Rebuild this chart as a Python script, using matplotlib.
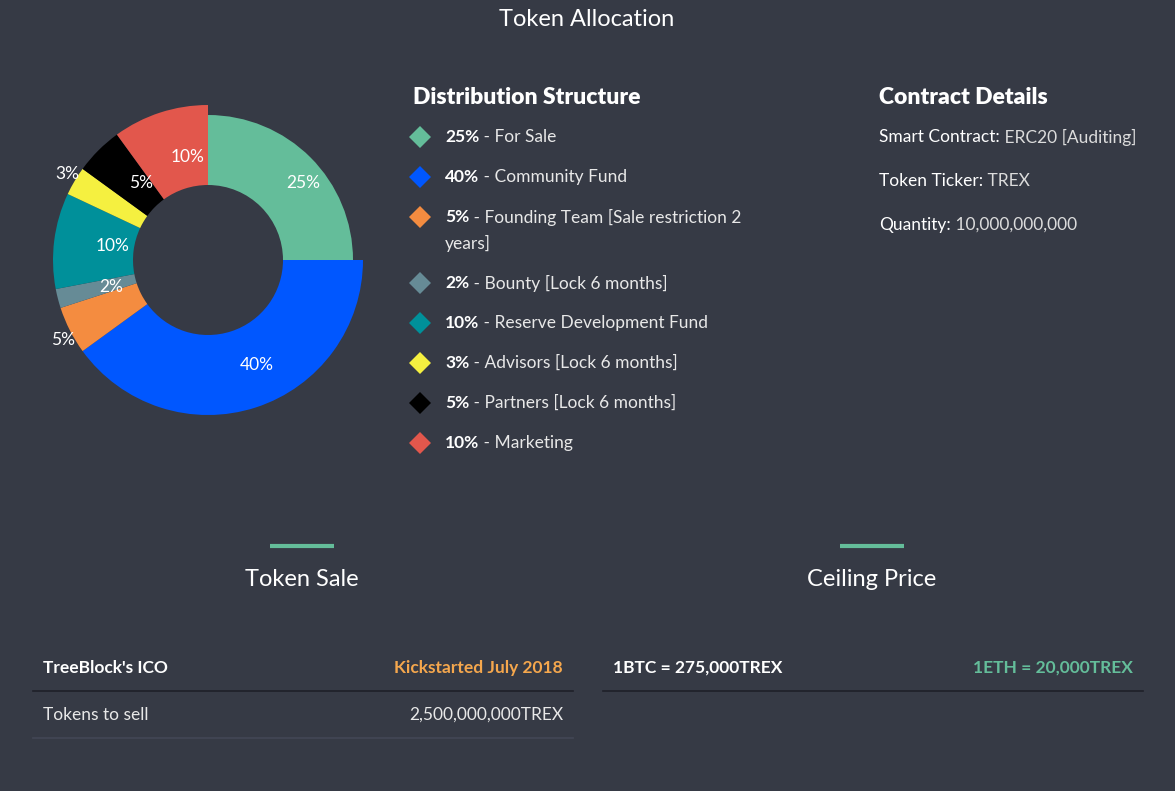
import matplotlib
matplotlib.use("Agg")
import matplotlib.pyplot as plt
import numpy as np

plt.rcParams['font.family'] = ['Lato', 'DejaVu Sans']

# data
shares = [25, 40, 5, 2, 10, 3, 5, 10]
names = ["For Sale", "Community Fund", "Founding Team [Sale restriction 2\nyears]",
         "Bounty [Lock 6 months]", "Reserve Development Fund",
         "Advisors [Lock 6 months]", "Partners [Lock 6 months]", "Marketing"]
colors = ["#64bd9a", "#0057ff", "#f48c40", "#668b96", "#00909a",
          "#f5f040", "#000000", "#e2574c"]

contract_keys = ["Smart Contract:", "Token Ticker:", "Quantity:"]
contract_vals = ["ERC20 [Auditing]", "TREX", "10,000,000,000"]

sale_head = ["TreeBlock's ICO", "Kickstarted July 2018"]
sale_row = ["Tokens to sell", "2,500,000,000TREX"]
price_head = ["1BTC = 275,000TREX", "1ETH = 20,000TREX"]

bg = "#363a45"
W, H = 1175, 791

fig = plt.figure(figsize=(W / 100, H / 100), dpi=100, facecolor=bg)
ax = fig.add_axes([0, 0, 1, 1])
ax.set_xlim(0, W)
ax.set_ylim(H, 0)
ax.axis("off")
ax.set_facecolor(bg)

# doughnut
cx, cy, half = 208, 260, 185
pax = fig.add_axes([(cx - half) / W, (H - cy - half) / H, 2 * half / W, 2 * half / H])
wedges, _ = pax.pie(shares, colors=colors, startangle=90, counterclock=False,
                    radius=155, wedgeprops=dict(width=80, linewidth=0))
wedges[0].set_radius(145)
wedges[0].set_width(70)
pax.set_xlim(-half, half)
pax.set_ylim(-half, half)
pax.axis("off")

# label distance from centre and small angle shift (deg, counter-clockwise)
label_r = [122, 116, 166, 100, 96, 165, 102, 105]
label_shift = [-6, 7, 2, 1, -1, -1, -4, -7]
for w, s, r, d in zip(wedges, shares, label_r, label_shift):
    th = np.deg2rad((w.theta1 + w.theta2) / 2 + d)
    pax.text(r * np.cos(th), r * np.sin(th), f"{s}%", color="white",
             fontsize=12.5, ha="center", va="center")

ax.text(587, 19, "Token Allocation", color="white", fontsize=17, ha="center", va="center")

# distribution list
ax.text(413, 97, "Distribution Structure", color="white", fontsize=16.5,
        fontweight="heavy", va="center")
y = 137
for s, name, c in zip(shares, names, colors):
    ax.plot(420, y, marker="D", markersize=11, color=c, markeredgewidth=0)
    lines = name.split("\n")
    t = ax.text(445, y, f"{s}%", color="white", fontsize=12.5, fontweight="bold", va="center")
    ax.annotate(" - " + lines[0], xy=(1, 0.5), xycoords=t, va="center",
                color="#e8e8e8", fontsize=12.5)
    if len(lines) > 1:
        y += 26
        ax.text(445, y, lines[1], color="#e8e8e8", fontsize=12.5, va="center")
    y += 40

# contract details
ax.text(879, 97, "Contract Details", color="white", fontsize=16.5,
        fontweight="heavy", va="center")
for i, (k, v) in enumerate(zip(contract_keys, contract_vals)):
    t = ax.text(879, 137 + 44 * i, k, color="white", fontsize=12.5, va="center")
    ax.annotate(" " + v, xy=(1, 0.5), xycoords=t, va="center",
                color="#dcdcdc", fontsize=12.5)

# bottom sections
for x0, title in [(302, "Token Sale"), (872, "Ceiling Price")]:
    ax.plot([x0 - 32, x0 + 32], [546, 546], color="#64bd9a", lw=3, solid_capstyle="butt")
    ax.text(x0, 580, title, color="white", fontsize=17, ha="center", va="center")

ax.text(43, 668, sale_head[0], color="white", fontsize=12.5, fontweight="bold", va="center")
ax.text(563, 668, sale_head[1], color="#f5a74d", fontsize=12.5, fontweight="bold",
        va="center", ha="right")
ax.plot([33, 573], [691, 691], color="#1e2029", lw=1.2)
ax.text(43, 715, sale_row[0], color="#e8e8e8", fontsize=12.5, va="center")
ax.text(563, 715, sale_row[1], color="#e8e8e8", fontsize=12.5, va="center", ha="right")
ax.plot([33, 573], [738, 738], color="#434755", lw=1.2)

ax.text(613, 668, price_head[0], color="white", fontsize=12.5, fontweight="bold", va="center")
ax.text(1133, 668, price_head[1], color="#64bd9a", fontsize=12.5, fontweight="bold",
        va="center", ha="right")
ax.plot([603, 1143], [691, 691], color="#1e2029", lw=1.2)

fig.savefig("out.png", dpi=100, facecolor=bg)
